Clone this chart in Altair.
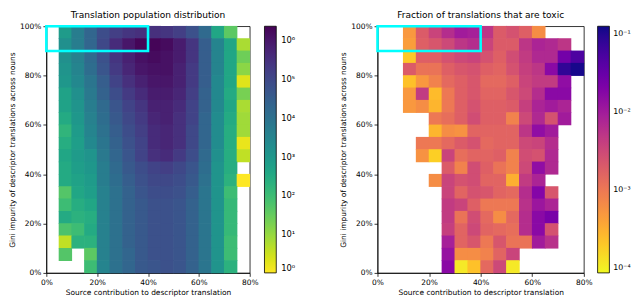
import altair as alt
import pandas as pd

# ---- bins / ticks ----
X_START = [0.00, 0.05, 0.10, 0.15, 0.20, 0.25, 0.30, 0.35, 0.40, 0.45, 0.50, 0.55, 0.60, 0.65, 0.70, 0.75]
Y_TOP = [1.00, 0.95, 0.90, 0.85, 0.80, 0.75, 0.70, 0.65, 0.60, 0.55, 0.50, 0.45, 0.40, 0.35, 0.30, 0.25, 0.20, 0.15, 0.10, 0.05]
BIN = 0.05
X_TICKS = [0.0, 0.1, 0.2, 0.3, 0.4, 0.5, 0.6, 0.7, 0.8]
Y_TICKS = [0.0, 0.2, 0.4, 0.6, 0.8, 1.0]
HIGHLIGHT_X = [0.0, 0.4]
HIGHLIGHT_Y = [0.9, 1.0]

N = None
# ---- left panel: log10 of translation counts, one list per y-bin (top to bottom) ----
pop_95 = [N, 2.9, 3.7, 4.3, 4.9, 5.2, 5.4, 5.5, 5.5, 5.4, 5.2, 4.8, 4.2, 2.6, 1.6, N]
pop_90 = [N, 3.2, 3.7, 4.3, 5.0, 5.6, 6.0, 6.3, 6.3, 6.2, 5.9, 5.4, 4.5, 3.5, 2.6, 0.8]
pop_85 = [N, 3.2, 3.6, 4.2, 4.8, 5.4, 5.8, 6.1, 6.2, 6.1, 5.9, 5.4, 4.5, 3.5, 2.6, 1.4]
pop_80 = [N, 3.1, 3.5, 4.1, 4.7, 5.3, 5.7, 6.0, 6.1, 6.1, 5.8, 5.3, 4.5, 3.5, 2.6, 1.1]
pop_75 = [N, 3.0, 3.4, 3.9, 4.5, 5.1, 5.5, 5.8, 6.0, 6.0, 5.8, 5.3, 4.5, 3.4, 2.6, 0.3]
pop_70 = [N, 2.7, 3.2, 3.8, 4.4, 4.9, 5.3, 5.6, 5.9, 5.9, 5.7, 5.2, 4.4, 3.4, 2.5, 1.3]
pop_65 = [N, 2.7, 3.1, 3.7, 4.2, 4.7, 5.1, 5.4, 5.8, 5.8, 5.6, 5.1, 4.4, 3.4, 2.6, 0.8]
pop_60 = [N, 2.5, 3.0, 3.6, 4.1, 4.6, 5.0, 5.3, 5.7, 5.8, 5.5, 5.1, 4.3, 3.3, 2.5, 0.9]
pop_55 = [N, 2.2, 2.9, 3.5, 4.0, 4.5, 4.9, 5.2, 5.6, 5.7, 5.5, 5.0, 4.3, 3.3, 2.4, 0.9]
pop_50 = [N, 2.4, 2.8, 3.4, 3.9, 4.4, 4.8, 5.1, 5.6, 5.7, 5.5, 5.0, 4.3, 3.3, 2.4, 0.2]
pop_45 = [N, 2.6, 2.9, 3.1, 3.8, 4.3, 4.7, 5.1, 5.5, 5.6, 5.3, 4.9, 4.2, 3.2, 2.4, 0.6]
pop_40 = [N, 2.5, 2.8, 3.0, 3.7, 4.2, 4.6, 4.9, 5.1, 5.2, 5.0, 4.7, 4.1, 3.1, 2.4, N]
pop_35 = [N, 2.5, 2.7, 2.9, 3.7, 4.1, 4.5, 4.8, 5.0, 5.0, 4.9, 4.6, 4.0, 3.1, 2.3, 0.0]
pop_30 = [N, 1.7, 2.6, 2.8, 3.6, 4.0, 4.4, 4.7, 4.9, 4.9, 4.8, 4.5, 3.9, 3.1, 2.0, N]
pop_25 = [N, 2.0, 2.4, 2.6, 3.6, 4.0, 4.4, 4.6, 4.8, 4.8, 4.7, 4.4, 3.9, 3.1, 2.1, N]
pop_20 = [N, 2.5, 2.3, 2.4, 3.6, 4.0, 4.4, 4.6, 4.8, 4.8, 4.7, 4.4, 3.9, 3.1, 2.1, N]
pop_15 = [N, 1.8, 2.0, 2.5, 3.6, 4.0, 4.4, 4.6, 4.8, 4.8, 4.7, 4.4, 3.9, 3.1, 2.1, N]
pop_10 = [N, 0.6, 2.3, 2.3, 3.6, 4.0, 4.4, 4.6, 4.8, 4.8, 4.7, 4.4, 3.9, 3.1, 2.0, N]
pop_05 = [N, 1.7, N, 1.6, 3.6, 4.0, 4.3, 4.6, 4.8, 4.8, 4.7, 4.4, 3.9, 3.1, 2.0, N]
pop_00 = [N, N, N, 2.0, 3.5, 4.0, 4.3, 4.6, 4.7, 4.8, 4.7, 4.4, 3.9, 3.1, 2.3, N]

# ---- right panel: log10 of toxic fraction, one list per y-bin (top to bottom) ----
tox_95 = [N, N, -3.3, -2.7, -2.45, -2.2, -2.0, -2.05, -2.3, -2.7, -2.6, -2.75, -3.2, N, N, N]
tox_90 = [N, N, -3.35, -2.75, -2.65, -2.5, -2.3, -2.2, -2.45, -2.7, -2.7, -2.3, -2.1, -2.15, -2.3, N]
tox_85 = [N, N, -3.7, -2.75, -2.75, -2.6, -2.5, -2.45, -2.6, -2.75, -2.55, -2.35, -2.15, -2.15, -1.6, -1.3]
tox_80 = [N, N, -2.7, -2.95, -2.95, -2.75, -2.65, -2.6, -2.75, -2.8, -2.6, -2.4, -2.3, -1.8, -1.1, -0.95]
tox_75 = [N, N, -3.65, -3.3, -3.1, -2.85, -2.75, -2.65, -2.85, -2.85, -2.75, -2.45, -2.35, -2.35, -1.85, N]
tox_70 = [N, N, -3.3, -2.35, -3.6, -3.0, -2.75, -2.65, -2.8, -2.8, -2.65, -2.5, -2.2, -1.8, -1.8, N]
tox_65 = [N, N, -3.3, -3.2, -3.55, -3.0, -2.75, -2.6, -2.75, -2.75, -2.7, -2.4, -2.1, -2.0, -2.1, N]
tox_60 = [N, N, N, N, -3.0, -2.9, -2.75, -2.55, -2.75, -2.75, -3.1, -2.5, -2.15, -2.6, -2.0, N]
tox_55 = [N, N, N, N, -3.55, -3.2, -3.25, -2.8, -2.8, -2.8, -2.8, -2.3, -1.85, -2.0, N, N]
tox_50 = [N, N, N, -3.0, -3.0, -2.85, -2.7, -2.6, -2.85, -2.8, -2.8, -2.5, -2.45, -2.2, N, N]
tox_45 = [N, N, N, -3.25, -3.75, -2.45, -2.9, -2.8, -2.8, -2.75, -3.1, -2.55, -2.6, -2.15, N, N]
tox_40 = [N, N, N, N, N, -2.7, -3.1, -2.55, -2.75, -2.95, -3.1, -2.5, -1.85, -2.15, N, N]
tox_35 = [N, N, N, N, -3.2, -2.45, -2.6, -2.55, -2.8, -2.8, -3.5, -2.35, -2.1, N, N, N]
tox_30 = [N, N, N, N, N, -2.45, -2.8, -2.6, -2.65, -2.8, -2.85, -2.2, -1.75, -2.65, N, N]
tox_25 = [N, N, N, N, N, -2.35, -2.45, -2.75, -3.0, -3.0, -3.0, -2.25, -1.95, -2.1, N, N]
tox_20 = [N, N, N, N, N, -2.35, -2.95, -2.55, -2.85, -3.2, -2.85, -2.2, -1.8, -1.65, N, N]
tox_15 = [N, N, N, N, N, -2.4, -2.8, -2.5, -2.8, -2.85, -2.9, -2.2, -1.8, -2.6, N, N]
tox_10 = [N, N, N, N, N, -2.05, -2.8, -2.65, -3.0, -2.65, -2.95, -2.95, -2.0, -2.25, N, N]
tox_05 = [N, N, N, N, N, -1.9, -3.2, -3.2, -3.1, -2.8, -2.45, N, N, N, N, N]
tox_00 = [N, N, N, N, N, -1.8, -3.95, -3.65, -2.85, -2.5, -3.95, N, N, N, N, N]

POP_ROWS = [pop_95, pop_90, pop_85, pop_80, pop_75, pop_70, pop_65, pop_60, pop_55, pop_50,
            pop_45, pop_40, pop_35, pop_30, pop_25, pop_20, pop_15, pop_10, pop_05, pop_00]
TOX_ROWS = [tox_95, tox_90, tox_85, tox_80, tox_75, tox_70, tox_65, tox_60, tox_55, tox_50,
            tox_45, tox_40, tox_35, tox_30, tox_25, tox_20, tox_15, tox_10, tox_05, tox_00]

POP_DOMAIN = [1, 2.3e6]
TOX_DOMAIN = [8.7e-5, 0.125]
POP_LEGEND_VALUES = [1, 10, 100, 1e3, 1e4, 1e5, 1e6]
TOX_LEGEND_VALUES = [1e-4, 1e-3, 1e-2, 1e-1]

FONT = "DejaVu Sans"
H = 251


def grid_frame(rows, field):
    recs = []
    for r, row in enumerate(rows):
        for c, v in enumerate(row):
            if v is None:
                continue
            recs.append({"x": X_START[c], "x2": X_START[c] + BIN,
                         "y": Y_TOP[r] - BIN, "y2": Y_TOP[r], field: 10 ** v})
    return pd.DataFrame(recs)


SUP = ("'10' + (datum.value < 1 ? '⁻' : '') + substring('⁰¹²³⁴⁵⁶⁷⁸⁹', "
       "abs(round(log(datum.value)/LN10)), abs(round(log(datum.value)/LN10)) + 1)")

box_df = pd.DataFrame({"x": [HIGHLIGHT_X[0]], "x2": [HIGHLIGHT_X[1]],
                       "y": [HIGHLIGHT_Y[0]], "y2": [HIGHLIGHT_Y[1]]})


def panel(df, field, title, scheme, domain, lvals, width, loffset, lfont, llabeloff):
    xenc = alt.X("x:Q", scale=alt.Scale(domain=[0, 0.8], nice=False, zero=False),
                 axis=alt.Axis(values=X_TICKS, format=".0%", labelFlush=False,
                               title="Source contribution to descriptor translation"))
    yenc = alt.Y("y:Q", scale=alt.Scale(domain=[0, 1], nice=False, zero=False),
                 axis=alt.Axis(values=Y_TICKS, format=".0%", labelFlush=False,
                               title="Gini impurity of descriptor translations across nouns"))
    sc = alt.Scale(type="log", scheme=scheme, reverse=True, domain=domain, clamp=True)
    heat = alt.Chart(df).mark_rect(strokeWidth=0, xOffset=-0.35, x2Offset=0.35,
                                   yOffset=0.35, y2Offset=-0.35).encode(
        x=xenc, x2="x2:Q", y=yenc, y2="y2:Q",
        color=alt.Color(f"{field}:Q", scale=sc,
                        legend=alt.Legend(type="gradient", title=None, orient="right", offset=loffset,
                                          gradientLength=H, gradientThickness=12,
                                          values=lvals, labelExpr=SUP, labelFontSize=lfont,
                                          labelBaseline="middle", labelOffset=llabeloff,
                                          gradientStrokeColor="black", gradientStrokeWidth=0.8,
                                          padding=0)),
    )
    box = alt.Chart(box_df).mark_rect(fillOpacity=0, stroke="#00ffff", strokeWidth=2.6).encode(
        x="x:Q", x2="x2:Q", y="y:Q", y2="y2:Q")
    return alt.layer(heat, box).properties(width=width, height=H, title=title)


left = panel(grid_frame(POP_ROWS, "population"), "population",
             "Translation population distribution", "viridis", POP_DOMAIN, POP_LEGEND_VALUES,
             207, 15, 8.5, 5)
right = panel(grid_frame(TOX_ROWS, "toxic"), "toxic",
              "Fraction of translations that are toxic", "plasma", TOX_DOMAIN, TOX_LEGEND_VALUES,
              210, 14, 8, 4)

chart = (
    alt.hconcat(left, right, spacing=43)
    .resolve_scale(color="independent")
    .resolve_legend(color="independent")
    .properties(padding={"left": 0, "top": 0, "right": 0, "bottom": 0})
    .configure_view(stroke="black", strokeWidth=0.8)
    .configure_axis(grid=False, domainColor="black", tickColor="black", labelColor="black",
                    titleColor="black", labelFontSize=7.6, titleFontSize=7.6, tickSize=3.5,
                    labelPadding=2, titlePadding=3, titleFontWeight="normal",
                    labelFont=FONT, titleFont=FONT, domainWidth=0.8, tickWidth=0.8)
    .configure_title(font=FONT, fontSize=9.2, fontWeight="normal", color="black", offset=2)
    .configure_legend(labelFont=FONT, labelColor="black")
)

chart.save("out.html", embed_options={"renderer": "svg", "actions": False})
